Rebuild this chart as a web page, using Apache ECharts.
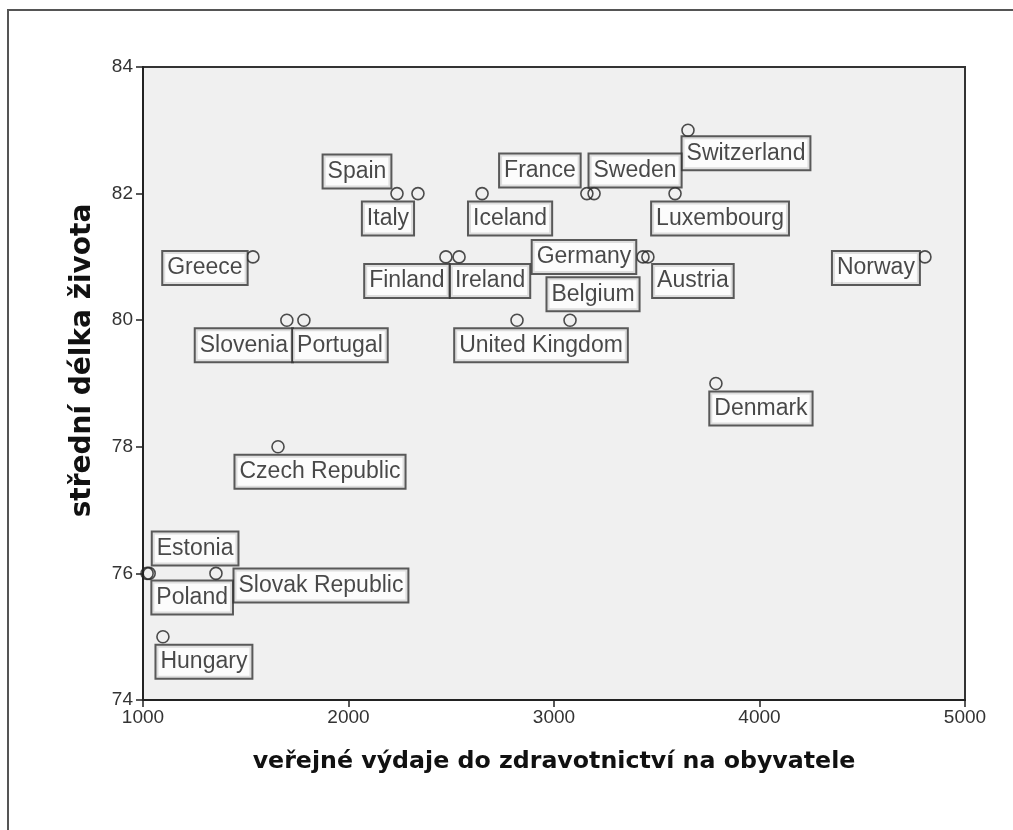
<!DOCTYPE html>
<html>
<head>
<meta charset="utf-8">
<script src="https://cdn.jsdelivr.net/npm/echarts@6/dist/echarts.min.js"></script>
<style>html,body{margin:0;padding:0;background:#fff}#c{width:1013px;height:830px}</style>
</head>
<body>
<div id="c"></div>
<script>
// ---- data ----
const countries = ["Switzerland","Spain","Italy","Iceland","France","Sweden","Luxembourg",
  "Greece","Finland","Ireland","Germany","Austria","Norway",
  "Slovenia","Portugal","United Kingdom","Belgium","Denmark",
  "Czech Republic","Estonia","Poland","Slovak Republic","Hungary"];
const spending = [3652,2236,2338,2650,3160,3195,3589,
  1535,2474,2538,3433,3457,4805,
  1700,1783,2820,3078,3788,
  1657,1020,1030,1355,1097];
const lifeExp = [83,82,82,82,82,82,82,
  81,81,81,81,81,81,
  80,80,80,80,79,
  78,76,76,76,75];
const xTicks = [1000,2000,3000,4000,5000];
const yTicks = [74,76,78,80,82,84];

// ---- label layout (pixel offsets of label boxes from their points) ----
const labelOffsets = {
  "Switzerland":[58,23],"Spain":[-40,-22],"Italy":[-30,25],"Iceland":[28,25],
  "France":[-47,-23],"Sweden":[41,-23],"Luxembourg":[45,25],
  "Greece":[-48,11],"Finland":[-39,24],"Ireland":[31,24],
  "Germany":[-59,0],"Austria":[45,24],"Norway":[-49,11],
  "Slovenia":[-43,25],"Portugal":[36,25],"United Kingdom":[24,25],
  "Belgium":[23,-26],"Denmark":[45,25],"Czech Republic":[42,25],
  "Estonia":[48,-25],"Poland":[43,24],"Slovak Republic":[105,12],"Hungary":[41,25]
};

const points = countries.map((c,i)=>({
  name:c, value:[spending[i], lifeExp[i]],
  label:{offset:labelOffsets[c]}
}));

const chart = echarts.init(document.getElementById('c'));
chart.setOption({
  animation:false,
  backgroundColor:'#fff',
  graphic:[{type:'rect',shape:{x:8,y:10,width:1100,height:900},
    style:{fill:'none',stroke:'#555',lineWidth:2},z:-10}],
  grid:{left:143,top:67,right:48,bottom:130,show:true,backgroundColor:'#f0f0f0',
    borderColor:'#333',borderWidth:2},
  xAxis:{type:'value',min:xTicks[0],max:xTicks[xTicks.length-1],interval:1000,
    name:'veřejné výdaje do zdravotnictví na obyvatele',nameLocation:'middle',nameGap:50,
    nameTextStyle:{fontFamily:'DejaVu Sans',fontWeight:'bold',fontSize:23.7,color:'#111'},
    axisLine:{lineStyle:{color:'#222',width:2}},
    axisTick:{show:true,length:7,lineStyle:{color:'#222',width:1.5}},
    axisLabel:{margin:8,fontFamily:'Liberation Sans',fontSize:19,color:'#333',
      formatter:v=>String(v)},
    splitLine:{show:false}},
  yAxis:{type:'value',min:yTicks[0],max:yTicks[yTicks.length-1],interval:2,
    name:'střední délka života',nameLocation:'middle',nameGap:46,
    nameTextStyle:{fontFamily:'DejaVu Sans',fontWeight:'bold',fontSize:28,color:'#111',
      padding:[0,0,0,46]},
    axisLine:{lineStyle:{color:'#222',width:2}},
    axisTick:{show:true,length:7,lineStyle:{color:'#222',width:1.5}},
    axisLabel:{margin:10,fontFamily:'Liberation Sans',fontSize:19,color:'#333',
      formatter:v=>String(v)},
    splitLine:{show:false}},
  series:[{
    type:'scatter',
    data:points,
    symbol:'circle',symbolSize:12,
    itemStyle:{color:'rgba(0,0,0,0)',borderColor:'#222',borderWidth:1.6},
    label:{show:true,position:'inside',formatter:'{b}',
      fontFamily:'Liberation Sans',fontSize:23,color:'#1a1a1a',
      textBorderWidth:0,textBorderColor:'transparent',
      backgroundColor:'#fff',borderColor:'#333',borderWidth:2,
      padding:[4,4,3,4],lineHeight:25},
    emphasis:{disabled:true}
  }]
});
</script>
</body>
</html>
